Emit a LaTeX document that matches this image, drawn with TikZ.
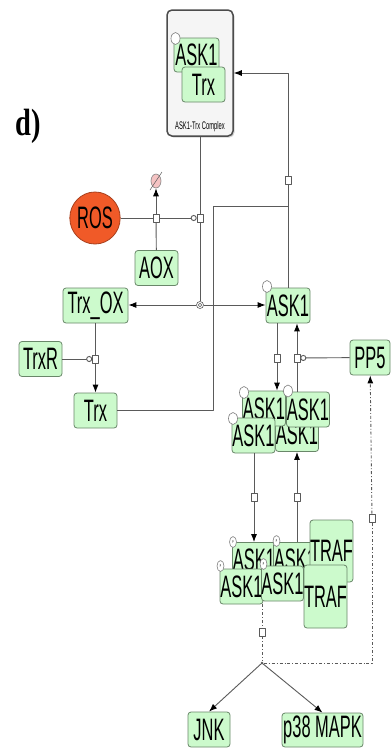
\documentclass[tikz,border=0pt]{standalone}
\usepackage{fontspec}
\setmainfont{Liberation Sans}[FakeStretch=0.53]
\newfontfamily\tagfont{Liberation Serif}[FakeStretch=0.75]
\usetikzlibrary{arrows.meta,shapes.geometric,shadows}
\definecolor{boxgreen}{RGB}{204,250,204}
\definecolor{boxedge}{RGB}{105,135,105}
\definecolor{wire}{RGB}{90,90,90}
\definecolor{rosred}{RGB}{240,90,40}
\definecolor{sinkpink}{RGB}{245,195,195}

\begin{document}
\begin{tikzpicture}[x=1pt, y=-1pt, line join=round,
	entity/.style={draw=boxedge, fill=boxgreen, rounded corners=3pt, line width=0.8pt, inner sep=0pt,
		minimum width=43pt, minimum height=35pt, font=\fontsize{31}{31}\selectfont},
	info/.style={ellipse, draw=gray, fill=white, line width=0.6pt, inner sep=0pt, minimum width=9pt, minimum height=12pt},
	pinfo/.style={info, minimum width=7pt, minimum height=11pt, font=\fontsize{4}{4}\selectfont},
	proc/.style={draw=wire, fill=white, line width=0.6pt, inner sep=0pt, minimum width=6pt, minimum height=8pt},
	link/.style={draw=wire, line width=0.9pt},
	arr/.style={link, -{Latex[length=8pt,width=6pt,color=black]}},
	catal/.style={link, -{Circle[length=6pt,width=6pt,fill=white]}},
	flux/.style={link, dash dot}]
	
	\fill[white] (0,0) rectangle (391,753);
	\useasboundingbox (0,0) rectangle (391,753);
	
	% Nhãn hình
	\node[font={\tagfont\bfseries\fontsize{38}{38}\selectfont}] (tag) at (28,126) {d)};
	
	% Phức hợp ASK1-Trx
	\node[draw=black!70, fill=gray!8, rounded corners=5pt, line width=1.5pt, minimum width=66pt, minimum height=126pt,
		drop shadow={shadow xshift=1.5pt, shadow yshift=-1.5pt, opacity=0.35}] (cpx) at (200,73) {};
	\node[font=\fontsize{11}{11}\selectfont] (cpxlabel) at (200,127) {ASK1-Trx Complex};
	\node[entity, minimum width=45pt, minimum height=34pt] (cask) at (196.5,55) {ASK1};
	\node[info] (caskinfo) at (175.5,38.5) {};
	\node[entity] (ctrx) at (203.5,84.5) {Trx};
	
	% ROS, AOX
	\node[ellipse, draw=rosred!70!black, fill=rosred, line width=0.8pt, minimum width=46pt, minimum height=52pt,
		inner sep=0pt, font=\fontsize{31}{31}\selectfont] (ros) at (95,218) {ROS};
	\node[entity] (aox) at (156.5,268) {AOX};
	\node[proc] (pdeg) at (156,218) {};
	\node[ellipse, draw=gray, fill=sinkpink, line width=0.6pt, minimum width=10pt, minimum height=14pt, inner sep=0pt] (sink) at (156,181) {};
	\draw[wire, line width=0.5pt] ([shift={(-6,9)}]sink.center) -- ([shift={(6,-9)}]sink.center);
	\node[proc] (pdis) at (200,218) {};
	\node[circle, draw=wire, fill=white, line width=0.6pt, minimum size=7pt, inner sep=0pt] (dis) at (200,305) {};
	\draw[wire, line width=0.5pt] (dis.center) circle (1.8pt);
	
	% Trx_OX, TrxR, Trx
	\node[entity, minimum width=65pt] (trxox) at (95.5,305.5) {Trx\_OX};
	\node[entity] (trxr) at (40.5,359) {TrxR};
	\node[proc] (pred) at (95.5,359) {};
	\node[entity] (trx) at (95.5,410.5) {Trx};
	
	% ASK1, PP5
	\node[entity, minimum width=44pt] (ask) at (288,305.5) {ASK1};
	\node[info] (askinfo) at (267,286.5) {};
	\node[entity, minimum width=40pt] (pp5) at (370,357.5) {PP5};
	\node[proc] (pbind) at (288,180) {};
	\node[proc] (pdim) at (277,358) {};
	\node[proc] (pmono) at (297,358) {};
	
	% Dime ASK1
	\node[entity] (d4) at (297,434) {ASK1};
	\node[entity] (d2) at (308,409.5) {ASK1};
	\node[entity] (d1) at (264,408.5) {ASK1};
	\node[entity] (d3) at (253.5,435.5) {ASK1};
	\node[info] (d1info) at (244,392.5) {};
	\node[info] (d2info) at (288,391) {};
	\node[info] (d3info) at (233,418.5) {};
	\node[proc] (pdown) at (254,497) {};
	\node[proc] (pup) at (297,497) {};
	
	% ASK1 phosphoryl hoá + TRAF
	\node[entity] (t1) at (254,560) {ASK1};
	\node[pinfo] (t1p) at (233,542) {P};
	\node[entity] (t2) at (295,560) {ASK1};
	\node[pinfo] (t2p) at (276.5,541) {P};
	\node[entity, minimum width=41pt, minimum height=62pt] (tr1) at (331.5,551) {TRAF};
	\node[entity] (t3) at (241.5,586.5) {ASK1};
	\node[pinfo] (t3p) at (220.5,566) {P};
	\node[entity, minimum width=41pt] (t4) at (282.5,583.5) {ASK1};
	\node[pinfo] (t4p) at (263.5,564) {P};
	\node[entity, minimum width=43pt, minimum height=63pt] (tr2) at (325.5,596.5) {TRAF};
	
	% JNK, p38 MAPK
	\node[proc] (pflux) at (262,632) {};
	\node[circle, fill=wire, minimum size=3pt, inner sep=0pt] (conv) at (262,663) {};
	\coordinate (fluxturn) at (372,663);
	\node[proc] (pflux2) at (372,518) {};
	\node[entity, minimum width=42pt] (jnk) at (209,729.5) {JNK};
	\node[entity, minimum width=81pt, minimum height=34pt] (p38) at (322.5,730) {p38 MAPK};
	
	% ASK1 + Trx -> phức hợp
	\coordinate (bind) at (288,206);
	\coordinate (trxturn) at (213,206);
	\draw[link] (ask.north) -- (pbind);
	\draw[arr] (pbind) |- (cpx.east);
	\draw[link] (trx.east) -| (trxturn) -- (bind);
	
	% Phân ly phức hợp
	\draw[link] (cpx.south) -- (pdis);
	\draw[link] (pdis) -- (dis);
	\draw[arr] (dis) -- (dis -| trxox.east);
	\draw[arr] (dis) -- (dis -| ask.west);
	
	% ROS + AOX
	\draw[link] (ros) -- (pdeg);
	\draw[catal] (pdeg) -- (pdis);
	\draw[link] (aox) -- (pdeg);
	\draw[arr] (pdeg) -- (sink);
	
	% Khử Trx_OX
	\draw[link] (trxox) -- (pred);
	\draw[arr] (pred) -- (trx);
	\draw[catal] (trxr) -- (pred);
	
	% Dime hoá và PP5
	\draw[link] (ask.south -| pdim) -- (pdim);
	\draw[arr] (pdim) -- (pdim |- d1.north);
	\draw[link] (d2.north -| pmono) -- (pmono);
	\draw[arr] (pmono) -- (pmono |- ask.south);
	\draw[catal] (pp5) -- (pmono);
	
	% Dime <-> phức hợp TRAF
	\draw[link] (d3.south -| pdown) -- (pdown);
	\draw[arr] (pdown) -- (pdown |- t1.north);
	\draw[link] (t2.north -| pup) -- (pup);
	\draw[arr] (pup) -- (pup |- d4.south);
	
	% Tín hiệu xuôi dòng
	\draw[flux] (pflux |- t3.south) -- (pflux);
	\draw[flux] (pflux) -- (conv);
	\draw[flux] (conv) -- (fluxturn) -- (pflux2);
	\draw[flux, -{Latex[length=8pt,width=6pt,color=black]}] (pflux2) -- (pp5);
	\draw[arr] (conv) -- (jnk.north);
	\draw[arr] (conv) -- (p38.north);
\end{tikzpicture}
\end{document}
